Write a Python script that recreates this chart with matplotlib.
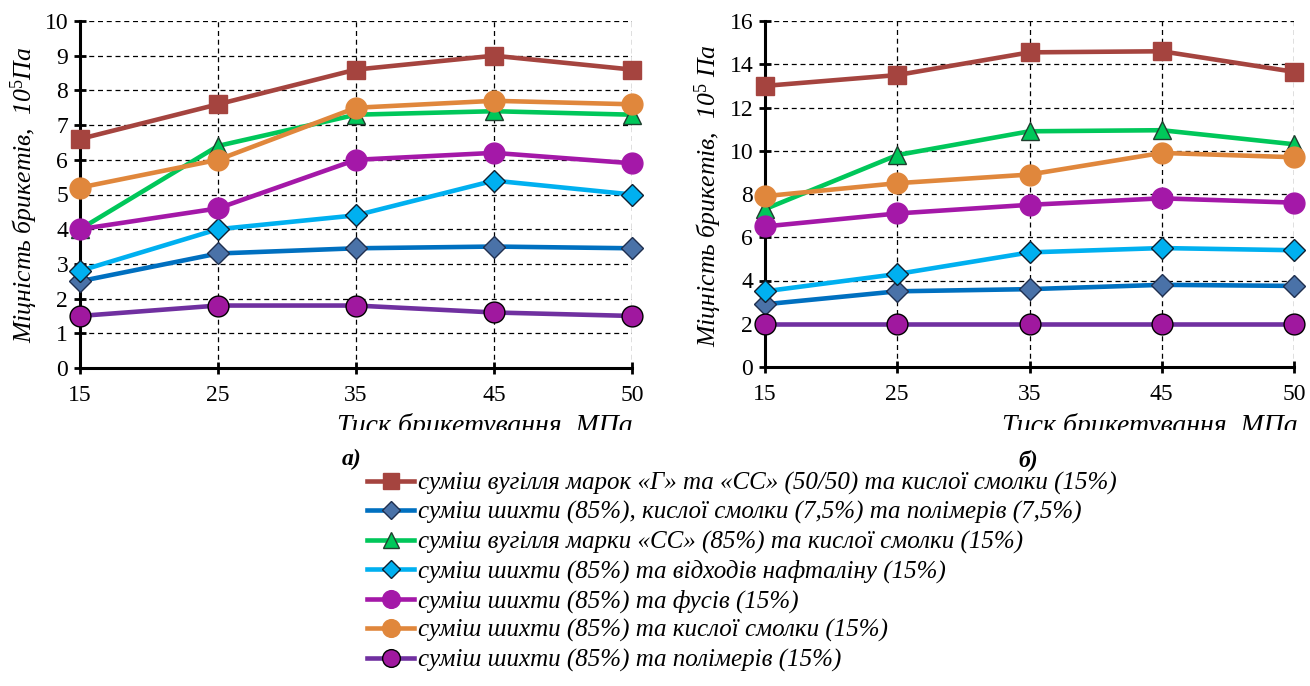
import matplotlib
matplotlib.use("Agg")
import matplotlib.pyplot as plt
from matplotlib.transforms import Bbox

plt.rcParams['font.family'] = ['Liberation Serif', 'DejaVu Serif']
plt.rcParams['mathtext.fontset'] = 'custom'
plt.rcParams['mathtext.rm'] = 'Liberation Serif'
plt.rcParams['mathtext.it'] = 'Liberation Serif:italic'

pressure = ['15', '25', '35', '45', '50']

labels = [
    'суміш вугілля марок «Г» та «СС» (50/50) та кислої смолки (15%)',
    'суміш шихти (85%), кислої смолки (7,5%) та полімерів (7,5%)',
    'суміш вугілля марки «СС» (85%) та кислої смолки (15%)',
    'суміш шихти (85%) та відходів нафталіну (15%)',
    'суміш шихти (85%) та фусів (15%)',
    'суміш шихти (85%) та кислої смолки (15%)',
    'суміш шихти (85%) та полімерів (15%)',
]

# panel a)
a_gss = [6.6, 7.6, 8.6, 9.0, 8.6]
a_resin_poly = [2.5, 3.3, 3.45, 3.5, 3.45]
a_ss = [4.0, 6.4, 7.3, 7.4, 7.3]
a_naph = [2.8, 4.0, 4.4, 5.4, 5.0]
a_fus = [4.0, 4.6, 6.0, 6.2, 5.9]
a_resin = [5.2, 6.0, 7.5, 7.7, 7.6]
a_poly = [1.5, 1.8, 1.8, 1.6, 1.5]

# panel b)
b_gss = [13.0, 13.5, 14.55, 14.6, 13.65]
b_resin_poly = [2.9, 3.5, 3.6, 3.8, 3.75]
b_ss = [7.3, 9.8, 10.9, 10.95, 10.3]
b_naph = [3.5, 4.3, 5.3, 5.5, 5.4]
b_fus = [6.5, 7.1, 7.5, 7.8, 7.6]
b_resin = [7.9, 8.5, 8.9, 9.9, 9.7]
b_poly = [2.0, 2.0, 2.0, 2.0, 2.0]

styles = [
    dict(color='#A5443F', marker='s', mfc='#A5443F', mec='#A5443F', ms=13.5),
    dict(color='#0070C0', marker='D', mfc='#4A72A8', mec='#1F2F4F', ms=11),
    dict(color='#00C75A', marker='^', mfc='#00C75A', mec='#1F3F2F', ms=13.5),
    dict(color='#00B0F0', marker='D', mfc='#00B0F0', mec='#102030', ms=11),
    dict(color='#A418A8', marker='o', mfc='#A418A8', mec='#A418A8', ms=15),
    dict(color='#E0873C', marker='o', mfc='#E0873C', mec='#E0873C', ms=15),
    dict(color='#7030A0', marker='o', mfc='#A0189F', mec='#000000', ms=15),
]

fig = plt.figure(figsize=(13.1, 6.86), dpi=100)
W, H = 1310, 686

def make_ax(x0, x1, y0, y1):
    return fig.add_axes([x0 / W, 1 - y1 / H, (x1 - x0) / W, (y1 - y0) / H])

ax1 = make_ax(80, 632, 21, 368)
ax2 = make_ax(765, 1294, 21, 367)

series_a = [a_gss, a_resin_poly, a_ss, a_naph, a_fus, a_resin, a_poly]
series_b = [b_gss, b_resin_poly, b_ss, b_naph, b_fus, b_resin, b_poly]

xs = list(range(len(pressure)))
handles = []
for ax, series, ymax, ystep in [(ax1, series_a, 10, 1), (ax2, series_b, 16, 2)]:
    for i, (vals, st) in enumerate(zip(series, styles)):
        ln, = ax.plot(xs, vals, lw=3.3, clip_on=False, mew=1.0, zorder=3 + i * 0.01, **st)
        if ax is ax1:
            handles.append(ln)
    ax.set_xlim(0, len(pressure) - 1)
    ax.set_ylim(0, ymax)
    ax.set_xticks(xs)
    ax.set_xticklabels(pressure)
    ax.set_yticks(range(0, ymax + 1, ystep))
    ax.grid(True, color='black', linestyle=(0, (4, 3)), linewidth=0.9)
    ax.set_axisbelow(True)
    for s in ['top', 'right']:
        ax.spines[s].set_visible(False)
    for s in ['left', 'bottom']:
        ax.spines[s].set_linewidth(2.2)
    ax.tick_params(direction='inout', length=9, width=2, labelsize=17, pad=4)
    ax.tick_params(axis='x', pad=8)

# y-labels
fig.text(24 / W, 1 - 195 / H, 'Міцність брикетів,  10$^{5}$Па', rotation=90,
         ha='center', va='center', fontsize=18.5, style='italic')
fig.text(708 / W, 1 - 196 / H, 'Міцність брикетів,  10$^{5}$ Па', rotation=90,
         ha='center', va='center', fontsize=18.5, style='italic')

# x-labels (clipped at the bottom like the reference)
clip = Bbox.from_extents(0, H - 430, W, H)
for xr in (633, 1298):
    t = fig.text(xr / W, 1 - 433 / H, 'Тиск брикетування, МПа', ha='right',
                 va='baseline', fontsize=20, style='italic')
    t.set_clip_box(clip)
    t.set_clip_on(True)

fig.text(352 / W, 1 - 459 / H, 'а)', ha='center', va='center', fontsize=17,
         style='italic', weight='bold')
fig.text(1028 / W, 1 - 460 / H, 'б)', ha='center', va='center', fontsize=17,
         style='italic', weight='bold')

leg = fig.legend(handles, labels, loc='upper left', bbox_to_anchor=(367 / W, 1 - 472 / H),
                 frameon=False, fontsize=18, handlelength=1.9, handletextpad=0.16,
                 labelspacing=0.25, borderaxespad=0, borderpad=0, markerscale=0.85)
for txt in leg.get_texts():
    txt.set_style('italic')

fig.savefig('out.png', dpi=100)
